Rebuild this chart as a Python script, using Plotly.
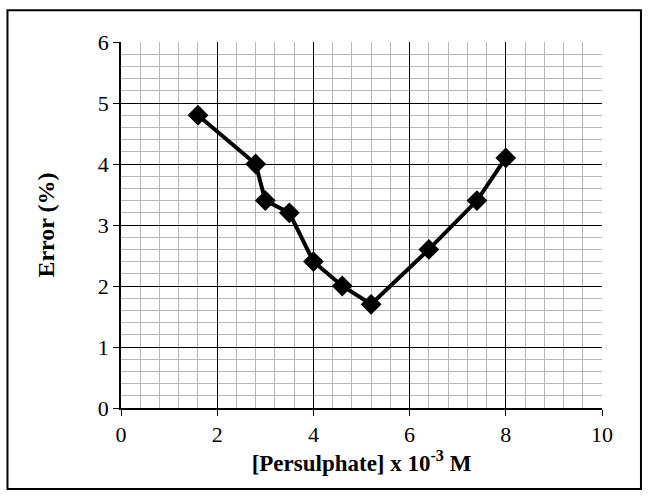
import plotly.graph_objects as go

persulphate = [1.6, 2.8, 3.0, 3.5, 4.0, 4.6, 5.2, 6.4, 7.4, 8.0]
error_pct = [4.8, 4.0, 3.4, 3.2, 2.4, 2.0, 1.7, 2.6, 3.4, 4.1]

x_title = "<b>[Persulphate] x 10<sup>-3</sup> M</b>"
y_title = "<b>Error (%)</b>"

FONT = "Liberation Serif, Times New Roman, serif"

fig = go.Figure()
fig.add_trace(go.Scatter(
    x=persulphate, y=error_pct, mode="lines+markers",
    line=dict(color="black", width=4),
    marker=dict(symbol="diamond", size=16, color="black"),
    showlegend=False, hoverinfo="skip",
))

axis_common = dict(
    showline=True, linecolor="black", linewidth=1.5,
    showgrid=True, gridcolor="black", gridwidth=1,
    ticks="outside", tickcolor="black", ticklen=6, tickwidth=1,
    zeroline=False,
    tickfont=dict(family=FONT, size=22, color="black"),
)

fig.update_layout(
    width=649, height=497,
    margin=dict(l=121, r=47, t=42, b=89),
    paper_bgcolor="white", plot_bgcolor="white",
    font=dict(family=FONT, color="black"),
    xaxis=dict(range=[0, 10], dtick=2, tick0=0,
               minor=dict(dtick=0.4, showgrid=True, gridcolor="#b8b8b8", gridwidth=1, ticks=""),
               title=dict(text=x_title, font=dict(family=FONT, size=23, color="black"), standoff=8),
               **axis_common),
    yaxis=dict(range=[0, 6], dtick=1, tick0=0,
               minor=dict(dtick=0.2, showgrid=True, gridcolor="#b8b8b8", gridwidth=1, ticks=""),
               title=dict(text=y_title, font=dict(family=FONT, size=24, color="black"), standoff=36),
               **axis_common),
)

fig.add_shape(type="rect", xref="paper", yref="paper",
              x0=-0.236, x1=1.081, y0=-0.2216, y1=1.087,
              line=dict(color="black", width=2), layer="above")

fig.write_html("out.html")
